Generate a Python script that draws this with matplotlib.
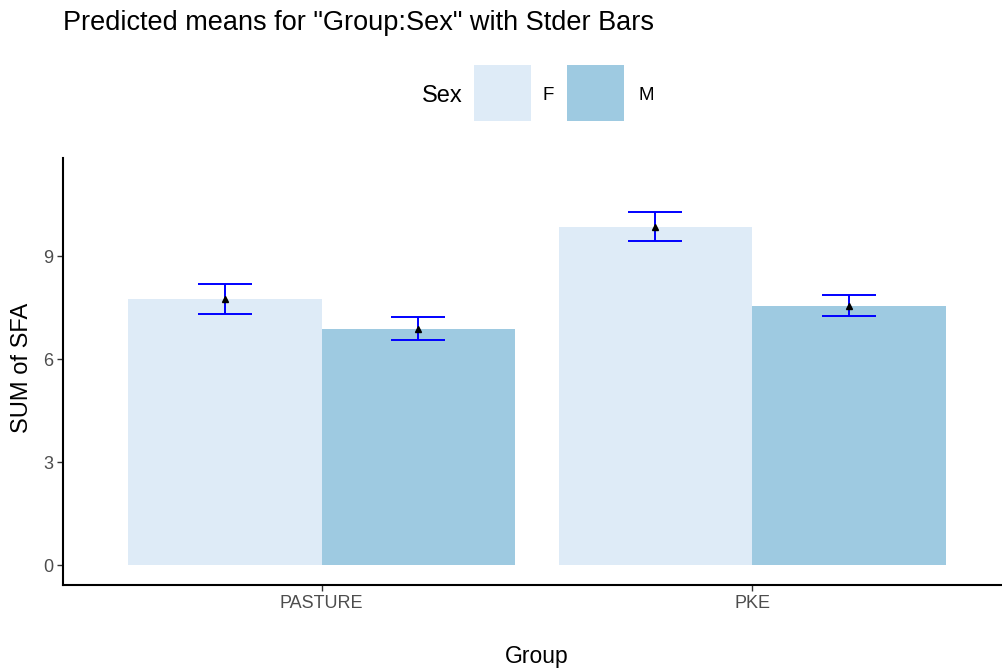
import matplotlib
matplotlib.use("Agg")
import matplotlib.pyplot as plt
from matplotlib.patches import Rectangle
import numpy as np

plt.rcParams['font.family'] = ['Liberation Sans', 'DejaVu Sans']

groups = ["PASTURE", "PKE"]
sexes = ["F", "M"]
colors = {"F": "#DEEBF7", "M": "#9ECAE1"}
# predicted means and standard errors, rows = group, columns = sex
means = np.array([[7.75, 6.89],
                  [9.86, 7.56]])
stderr = np.array([[0.44, 0.33],
                   [0.42, 0.31]])
yticks = [0, 3, 6, 9]

W, H = 1003, 668
fig = plt.figure(figsize=(W / 100, H / 100), dpi=100)
# panel runs past the right edge of the figure
ax = fig.add_axes([63 / W, (H - 585) / H, 948 / W, 427 / H])

bar_w = 0.45
xpos = np.arange(1, len(groups) + 1)
for j, s in enumerate(sexes):
    offs = (j - 0.5) * bar_w
    xs = xpos + offs
    ax.bar(xs, means[:, j], width=bar_w, color=colors[s], edgecolor='none', zorder=1)
    ax.errorbar(xs, means[:, j], yerr=stderr[:, j], fmt='none', ecolor='#0000FF',
                elinewidth=1.4, capsize=19.5, capthick=1.4, zorder=3)
    ax.plot(xs, means[:, j], linestyle='none', marker='^', color='black',
            markersize=4.5, zorder=4)

ax.set_xlim(0.4, 2.6)
ax.set_ylim(-0.58, 11.86)
ax.set_xticks(xpos)
ax.set_xticklabels(groups)
ax.set_yticks(yticks)
ax.set_yticklabels([str(t) for t in yticks])
for side in ['top', 'right']:
    ax.spines[side].set_visible(False)
for side in ['left', 'bottom']:
    ax.spines[side].set_linewidth(1.5)
    ax.spines[side].set_color('black')
ax.tick_params(axis='both', length=4, width=1.0, color='#333333',
               labelcolor='#4D4D4D', labelsize=13, pad=3)
ax.set_facecolor('white')

fig.text(22 / W, 1 - 368 / H, "SUM of SFA", rotation=90, ha='center', va='center',
         fontsize=17)
fig.text(537 / W, 1 - 656 / H, "Group", ha='center', va='center', fontsize=16.5)
fig.text(63 / W, 1 - 23 / H, 'Predicted means for "Group:Sex" with Stder Bars',
         ha='left', va='center', fontsize=19.5)

# legend
fig.text(422 / W, 1 - 96 / H, "Sex", ha='left', va='center', fontsize=17)
key_x = [474, 567]
lab_x = [543, 638]
for s, kx, lx in zip(sexes, key_x, lab_x):
    fig.patches.append(Rectangle((kx / W, 1 - 121 / H), 57 / W, 56 / H,
                                 transform=fig.transFigure, facecolor=colors[s],
                                 edgecolor='none'))
    fig.text(lx / W, 1 - 95 / H, s, ha='left', va='center', fontsize=13.5)

fig.savefig("out.png", dpi=100)
